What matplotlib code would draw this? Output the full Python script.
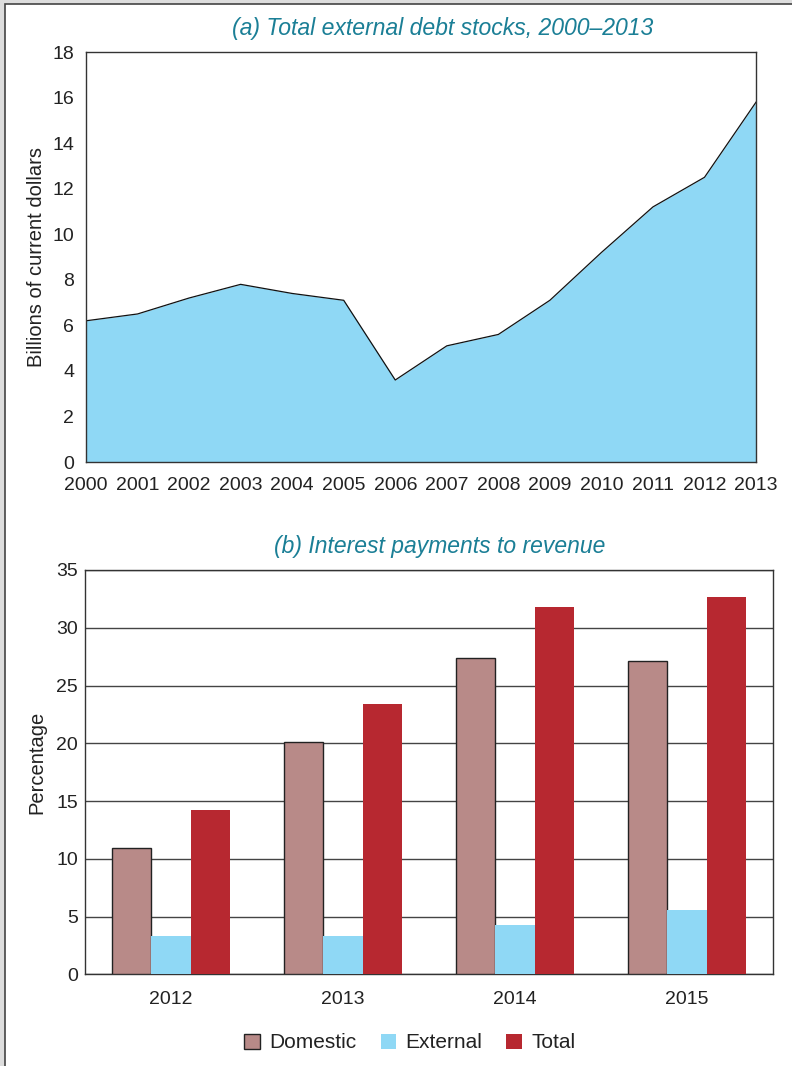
import numpy as np
import matplotlib.pyplot as plt
from matplotlib.patches import Rectangle

# ==========================================
# Data
# ==========================================
debt_years = [2000, 2001, 2002, 2003, 2004, 2005, 2006,
              2007, 2008, 2009, 2010, 2011, 2012, 2013]
debt_stocks = [6.2, 6.5, 7.2, 7.8, 7.4, 7.1, 3.6,
               5.1, 5.6, 7.1, 9.2, 11.2, 12.5, 15.8]

pay_years = ["2012", "2013", "2014", "2015"]
domestic = [10.9, 20.1, 27.4, 27.1]
external = [3.3, 3.3, 4.3, 5.6]
total = [14.2, 23.4, 31.8, 32.7]

TITLE_COLOR = '#1b7f96'
TEXT_COLOR = '#222222'
BLUE = '#8fd8f5'
MAUVE = '#b88a88'
RED = '#b72830'
LINE = '#333333'

plt.rcParams['font.family'] = ['Liberation Sans', 'DejaVu Sans']

fig = plt.figure(figsize=(7.92, 10.66), dpi=100)
fig.patch.set_facecolor('#dddddd')
fig.patches.append(Rectangle((5 / 792, -0.1), 1.2, 1.1 - 4 / 1066,
                             transform=fig.transFigure, facecolor='white',
                             edgecolor='#444444', linewidth=1.2, zorder=-10))

# ---------- (a) area chart ----------
ax1 = fig.add_axes([0.1086, 0.5666, 0.8460, 0.3846])
ax1.fill_between(debt_years, debt_stocks, 0, color=BLUE, linewidth=0)
ax1.plot(debt_years, debt_stocks, color='#111111', linewidth=0.9)
ax1.set_xlim(2000, 2013)
ax1.set_ylim(0, 18)
ax1.set_xticks(debt_years)
ax1.set_yticks(np.arange(0, 19, 2))
ax1.tick_params(length=0, labelsize=14, labelcolor=TEXT_COLOR)
ax1.tick_params(axis='x', pad=11)
ax1.tick_params(axis='y', pad=8.5)
ax1.set_ylabel("Billions of current dollars", fontsize=14.5, color=TEXT_COLOR)
ax1.yaxis.set_label_coords(-0.0597, 0.5)
for s in ax1.spines.values():
    s.set_color(LINE)
    s.set_linewidth(1)
fig.text(443 / 792, 1 - 28 / 1066, "(a) Total external debt stocks, 2000\u20132013",
         ha='center', va='center', fontsize=16.6, style='italic', color=TITLE_COLOR)

# ---------- (b) grouped bars ----------
ax2 = fig.add_axes([0.1073, 0.0860, 0.8687, 0.3793])
x = np.arange(len(pay_years))
w = 0.227
ax2.bar(x - w, domestic, w, color=MAUVE, edgecolor='#222222', linewidth=1, label="Domestic", zorder=3)
ax2.bar(x, external, w, color=BLUE, linewidth=0, label="External", zorder=3)
ax2.bar(x + w, total, w, color=RED, linewidth=0, label="Total", zorder=3)
ax2.set_xlim(-0.5, len(pay_years) - 0.5)
ax2.set_ylim(0, 35)
ax2.set_xticks(x)
ax2.set_xticklabels(pay_years)
ax2.set_yticks(np.arange(0, 36, 5))
ax2.yaxis.grid(True, color='#444444', linewidth=1, zorder=0)
ax2.set_axisbelow(True)
ax2.tick_params(length=0, labelsize=14, labelcolor=TEXT_COLOR)
ax2.tick_params(axis='x', pad=12)
ax2.tick_params(axis='y', pad=5)
ax2.set_ylabel("Percentage", fontsize=14.5, color=TEXT_COLOR)
ax2.yaxis.set_label_coords(-0.0566, 0.524)
for s in ax2.spines.values():
    s.set_color(LINE)
    s.set_linewidth(1)
fig.text(440 / 792, 1 - 547 / 1066, "(b) Interest payments to revenue",
         ha='center', va='center', fontsize=16.5, style='italic', color=TITLE_COLOR)

handles, labels = ax2.get_legend_handles_labels()
fig.legend(handles, labels, loc='center', bbox_to_anchor=(410 / 792, 1 - 1043 / 1066),
           ncol=3, frameon=False, fontsize=15, handlelength=0.75, handleheight=0.75,
           handletextpad=0.45, columnspacing=1.15, labelcolor=TEXT_COLOR)

fig.savefig("out.png", dpi=100, facecolor=fig.get_facecolor())
